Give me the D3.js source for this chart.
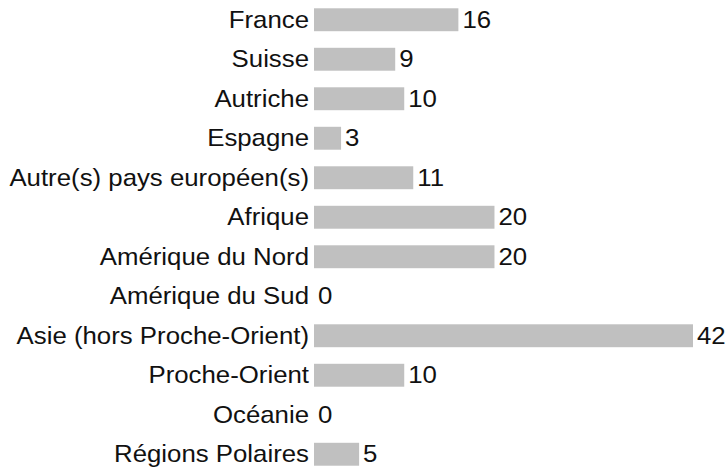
<!DOCTYPE html>
<html>
<head>
<meta charset="utf-8">
<script src="https://cdn.jsdelivr.net/npm/d3@7"></script>
<style>
  body { margin: 0; background: #fff; }
  svg { display: block; font-family: "Liberation Sans", Arial, sans-serif; }
</style>
</head>
<body>
<svg id="chart"></svg>
<script>
const categories = [
  'France', 'Suisse', 'Autriche', 'Espagne', 'Autre(s) pays européen(s)',
  'Afrique', 'Amérique du Nord', 'Amérique du Sud', 'Asie (hors Proche-Orient)',
  'Proche-Orient', 'Océanie', 'Régions Polaires'
];
const values = [16, 9, 10, 3, 11, 20, 20, 0, 42, 10, 0, 5];

const data = categories.map((c, i) => ({ name: c, value: values[i] }));

const width = 728;
const height = 467;
const marginLeft = 314;
const marginRight = 35;
const stretch = 1.075; // reference text is a little wider than Liberation Sans

const svg = d3.select('#chart')
  .attr('width', width)
  .attr('height', height)
  .attr('viewBox', [0, 0, width, height]);

// y: one band per category
const y = d3.scaleBand()
  .domain(categories)
  .range([0, 474])
  .paddingInner(0.42)
  .paddingOuter(0.21);

// x: counts
const x = d3.scaleLinear()
  .domain([0, d3.max(values)])
  .range([marginLeft, width - marginRight]);

const cy = d => y(d.name) + y.bandwidth() / 2;

// bars
svg.append('g')
  .attr('fill', '#c0c0c0')
  .selectAll('rect')
  .data(data)
  .join('rect')
  .attr('x', x(0))
  .attr('y', d => y(d.name))
  .attr('width', d => x(d.value) - x(0))
  .attr('height', y.bandwidth());

// category labels
svg.append('g')
  .attr('font-size', 24)
  .attr('fill', '#111')
  .attr('text-anchor', 'end')
  .selectAll('text')
  .data(data)
  .join('text')
  .attr('transform', d => `translate(${x(0) - 5},${cy(d)}) scale(${stretch},1)`)
  .attr('dy', '0.33em')
  .text(d => d.name);

// value labels
svg.append('g')
  .attr('font-size', 24)
  .attr('fill', '#111')
  .selectAll('text')
  .data(data)
  .join('text')
  .attr('transform', d => `translate(${x(d.value) + 4},${cy(d)}) scale(${stretch},1)`)
  .attr('dy', '0.33em')
  .text(d => d.value);
</script>
</body>
</html>
